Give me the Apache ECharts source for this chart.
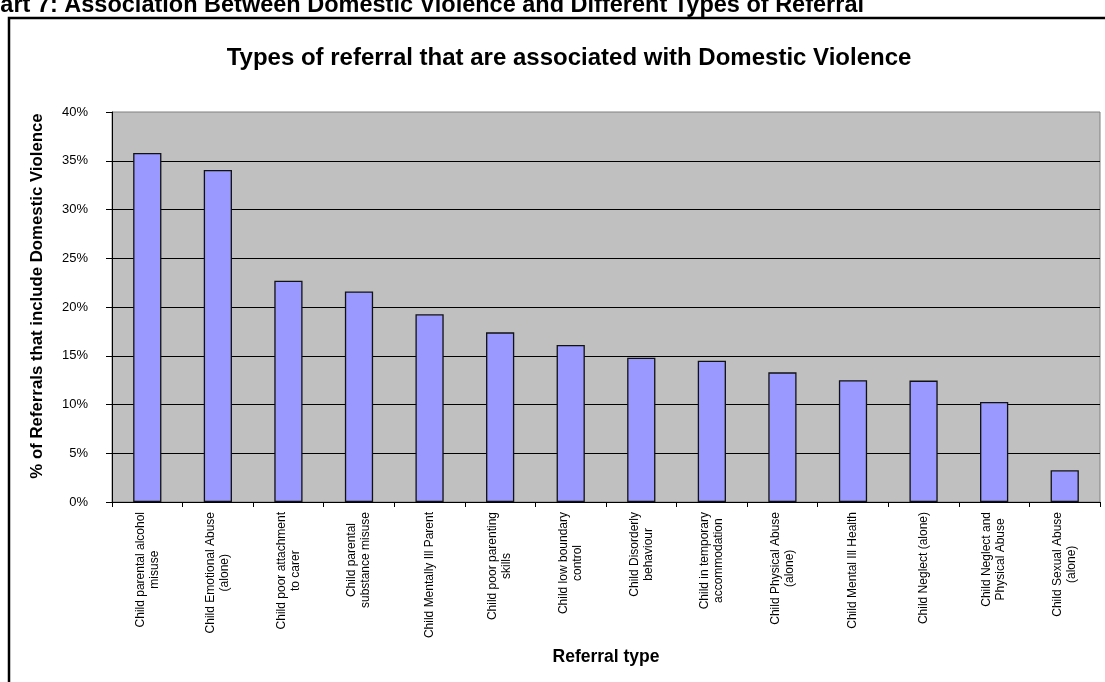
<!DOCTYPE html>
<html>
<head>
<meta charset="utf-8">
<script src="https://cdn.jsdelivr.net/npm/echarts@6/dist/echarts.min.js"></script>
<style>
  html, body { margin: 0; padding: 0; background: #fff; }
  #chart { width: 1105px; height: 682px; }
</style>
</head>
<body>
<div id="chart"></div>
<script>
// Referral types, in descending order of association
const categories = [
  'Child parental alcohol\nmisuse',
  'Child Emotional Abuse\n(alone)',
  'Child poor attachment\nto carer',
  'Child parental\nsubstance misuse',
  'Child Mentally Ill Parent',
  'Child poor parenting\nskills',
  'Child low boundary\ncontrol',
  'Child Disorderly\nbehaviour',
  'Child in temporary\naccommodation',
  'Child Physical Abuse\n(alone)',
  'Child Mental Ill Health',
  'Child Neglect (alone)',
  'Child Neglect and\nPhysical Abuse',
  'Child Sexual Abuse\n(alone)'
];

// % of referrals that include domestic violence
const dvShare = [35.8, 34.05, 22.7, 21.6, 19.25, 17.4, 16.1, 14.8, 14.5, 13.3, 12.5, 12.45, 10.25, 3.25];

const yTicks = { min: 0, max: 40, step: 5 };

const FONT = 'Arial, "Liberation Sans", sans-serif';

const chart = echarts.init(document.getElementById('chart'));

chart.setOption({
  animation: false,
  backgroundColor: '#ffffff',
  title: {
    text: 'Types of referral that are associated with Domestic Violence',
    left: 564,
    top: 41,
    textAlign: 'center',
    textStyle: { fontFamily: FONT, fontSize: 24, fontWeight: 'bold', color: '#000' }
  },
  graphic: [
    {
      type: 'text',
      left: -31,
      top: -6,
      style: {
        text: 'Chart 7: Association Between Domestic Violence and Different Types of Referral',
        font: 'bold 23.5px ' + FONT,
        fill: '#000'
      }
    },
    {
      type: 'rect',
      shape: { x: 9, y: 18, width: 1200, height: 800 },
      style: { fill: 'none', stroke: '#000', lineWidth: 2.5 },
      silent: true
    }
  ],
  grid: {
    left: 112,
    right: 5,
    top: 112,
    bottom: 180,
    show: true,
    backgroundColor: '#C0C0C0',
    borderColor: '#808080',
    borderWidth: 1
  },
  xAxis: {
    type: 'category',
    data: categories,
    boundaryGap: true,
    name: 'Referral type',
    nameLocation: 'middle',
    nameGap: 146,
    nameTextStyle: { fontFamily: FONT, fontSize: 17.5, fontWeight: 'bold', color: '#000' },
    axisLine: { lineStyle: { color: '#000', width: 1 } },
    axisTick: { show: true, length: 5, lineStyle: { color: '#000' } },
    axisLabel: {
      interval: 0,
      rotate: 90,
      margin: 10,
      color: '#000',
      formatter: function (v) {
        return v.split('\n').map(function (line) { return '{c|' + line + '}'; }).join('\n');
      },
      rich: {
        c: { fontFamily: FONT, fontSize: 12, lineHeight: 14, align: 'center', color: '#000' }
      }
    }
  },
  yAxis: {
    type: 'value',
    min: yTicks.min,
    max: yTicks.max,
    interval: yTicks.step,
    name: '% of Referrals that include Domestic Violence',
    nameLocation: 'middle',
    nameRotate: 90,
    nameGap: 66,
    nameTextStyle: {
      fontFamily: FONT, fontSize: 16.8, fontWeight: 'bold', color: '#000',
      padding: [0, 0, 0, 22]
    },
    axisLine: { show: true, lineStyle: { color: '#000', width: 1 } },
    axisTick: { show: true, length: 6, lineStyle: { color: '#000' } },
    axisLabel: {
      margin: 24,
      formatter: '{value}%',
      fontFamily: FONT,
      fontSize: 13,
      color: '#000'
    },
    splitLine: { show: true, showMaxLine: false, lineStyle: { color: '#000', width: 1 } }
  },
  series: [
    {
      type: 'bar',
      data: dvShare,
      barWidth: '40%',
      itemStyle: { color: '#9999FF', borderColor: '#111', borderWidth: 1.3 }
    }
  ]
});
</script>
</body>
</html>
